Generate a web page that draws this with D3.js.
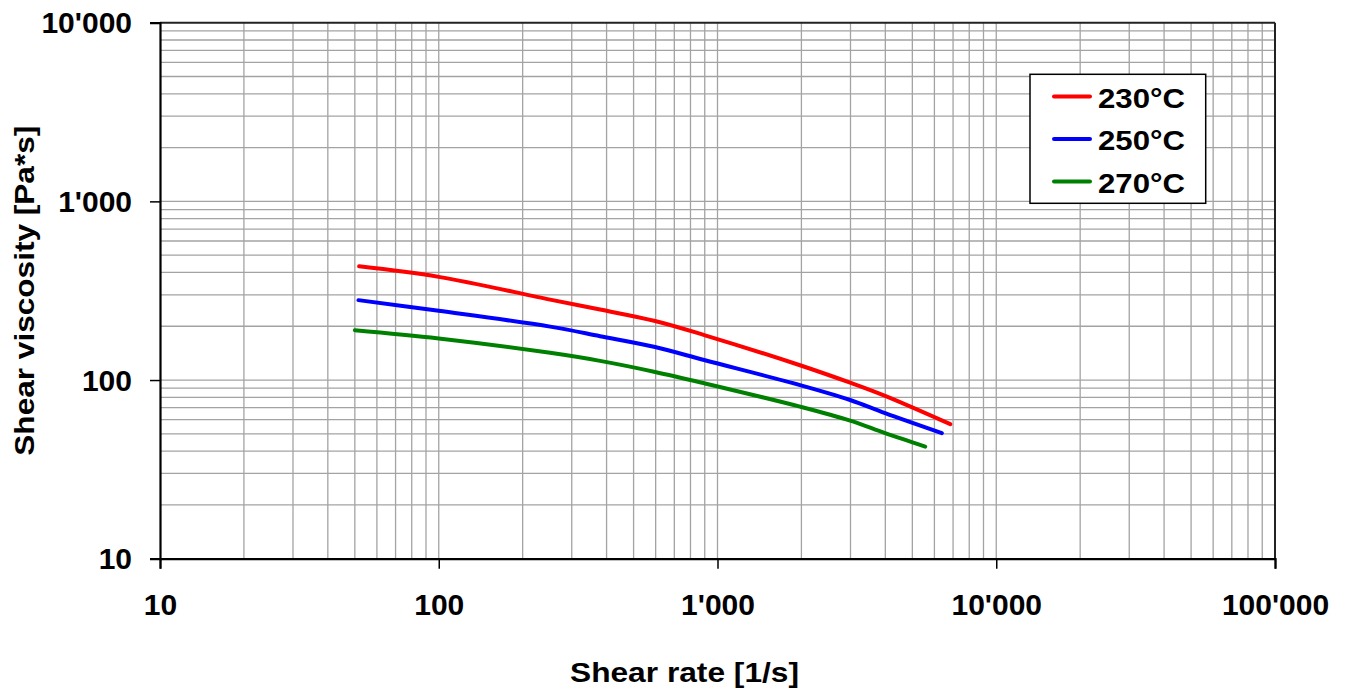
<!DOCTYPE html>
<html>
<head>
<meta charset="utf-8">
<script src="https://cdn.jsdelivr.net/npm/d3@7"></script>
<style>
  html, body { margin: 0; padding: 0; background: #fff; }
  svg { display: block; font-family: "Liberation Sans", Arial, sans-serif; font-weight: bold; }
</style>
</head>
<body>
<svg id="chart" width="1350" height="691"></svg>
<script>
// ---- data ----
const seriesNames = ["230°C", "250°C", "270°C"];
const seriesColors = ["#ff0000", "#0000ff", "#008000"];

const rate230 = [51.8, 100, 251, 379, 597, 902, 1977, 2992, 3993, 6840];
const visc230 = [433, 378, 282, 248, 214, 178, 121, 96.6, 81.5, 56.6];

const rate250 = [51.5, 100, 251, 379, 597, 902, 1977, 2992, 3993, 6380];
const visc250 = [280, 244, 199, 176, 153, 129, 93.7, 77.3, 65.2, 50.4];

const rate270 = [50, 100, 251, 379, 597, 902, 1977, 2992, 3993, 5560];
const visc270 = [190, 171, 142, 128, 111, 95.7, 71, 59.3, 50.4, 42.4];

const xTicks = [10, 100, 1000, 10000, 100000];
const yTicks = [10, 100, 1000, 10000];
const xTitle = "Shear rate [1/s]";
const yTitle = "Shear viscosity [Pa*s]";

// ---- layout ----
const svg = d3.select("#chart");
const L = 160, R = 1275, T = 22.7, B = 558.7;

const x = d3.scaleLog().domain([10, 100000]).range([L, R]);
const y = d3.scaleLog().domain([10, 10000]).range([B, T]);

const loc = d3.formatLocale({decimal: ".", thousands: "'", grouping: [3], currency: ["", ""]});
const fmt = loc.format(",");

// minor grid values
function minorVals(lo, hi) {
  const out = [];
  for (let d = lo; d < hi; d *= 10) for (let k = 2; k <= 9; k++) out.push(d * k);
  return out;
}
const xGrid = minorVals(10, 100000).concat(xTicks.slice(1, -1));
const yGrid = minorVals(10, 10000).concat(yTicks.slice(1, -1));

const grid = svg.append("g").attr("stroke", "#a3a3a3").attr("stroke-width", 1.3);
grid.selectAll("line.v").data(xGrid).join("line")
  .attr("x1", d => x(d)).attr("x2", d => x(d)).attr("y1", T).attr("y2", B);
grid.selectAll("line.h").data(yGrid).join("line")
  .attr("y1", d => y(d)).attr("y2", d => y(d)).attr("x1", L).attr("x2", R);

// frame top/right
svg.append("line").attr("x1", L).attr("x2", R).attr("y1", T).attr("y2", T).attr("stroke", "#222").attr("stroke-width", 2);
svg.append("line").attr("x1", R).attr("x2", R).attr("y1", T).attr("y2", B).attr("stroke", "#222").attr("stroke-width", 2);

// axes
const xAxis = d3.axisBottom(x).tickValues(xTicks).tickFormat(fmt).tickSize(10).tickPadding(25);
const gx = svg.append("g").attr("transform", `translate(0,${B})`).call(xAxis);
gx.select(".domain").attr("stroke", "#000").attr("stroke-width", 2.2);
gx.selectAll(".tick line").attr("stroke", "#000").attr("stroke-width", 1.5);
gx.selectAll("text").attr("font-size", 30).attr("font-weight", "bold").attr("fill", "#000")
  .attr("font-family", "Liberation Sans, Arial, sans-serif");

const yAxis = d3.axisLeft(y).tickValues(yTicks).tickFormat(fmt).tickSize(10).tickPadding(18);
const gy = svg.append("g").attr("transform", `translate(${L},0)`).call(yAxis);
gy.select(".domain").attr("stroke", "#000").attr("stroke-width", 2.2);
gy.selectAll(".tick line").attr("stroke", "#000").attr("stroke-width", 1.5);
gy.selectAll("text").attr("font-size", 30).attr("font-weight", "bold").attr("fill", "#000")
  .attr("font-family", "Liberation Sans, Arial, sans-serif").attr("dy", "0.34em");

// axis titles
svg.append("text").attr("x", 684.5).attr("y", 682).attr("text-anchor", "middle")
  .attr("font-size", 28).attr("textLength", 229).attr("lengthAdjust", "spacingAndGlyphs")
  .text(xTitle);
svg.append("text").attr("transform", `translate(34,${(T + B) / 2}) rotate(-90)`).attr("text-anchor", "middle")
  .attr("font-size", 28).attr("textLength", 330).attr("lengthAdjust", "spacingAndGlyphs")
  .text(yTitle);

// series
const series = [
  {rate: rate230, visc: visc230},
  {rate: rate250, visc: visc250},
  {rate: rate270, visc: visc270}
];
const line = d3.line().x(d => x(d[0])).y(d => y(d[1])).curve(d3.curveCatmullRom.alpha(0.5));
series.forEach((s, i) => {
  const pts = s.rate.map((r, j) => [r, s.visc[j]]);
  svg.append("path").datum(pts).attr("d", line)
    .attr("fill", "none").attr("stroke", seriesColors[i]).attr("stroke-width", 4)
    .attr("stroke-linecap", "round").attr("stroke-linejoin", "round");
});

// legend
const lg = svg.append("g");
lg.append("rect").attr("x", 1030).attr("y", 74.3).attr("width", 175.7).attr("height", 129)
  .attr("fill", "#fff").attr("stroke", "#000").attr("stroke-width", 1.5);
const rowY = [96.5, 139, 181.5];
seriesNames.forEach((n, i) => {
  lg.append("line").attr("x1", 1054).attr("x2", 1090).attr("y1", rowY[i]).attr("y2", rowY[i])
    .attr("stroke", seriesColors[i]).attr("stroke-width", 4).attr("stroke-linecap", "round");
  lg.append("text").attr("x", 1098).attr("y", rowY[i] + 11).attr("font-size", 28)
    .attr("textLength", 87).attr("lengthAdjust", "spacingAndGlyphs").text(n);
});
</script>
</body>
</html>
